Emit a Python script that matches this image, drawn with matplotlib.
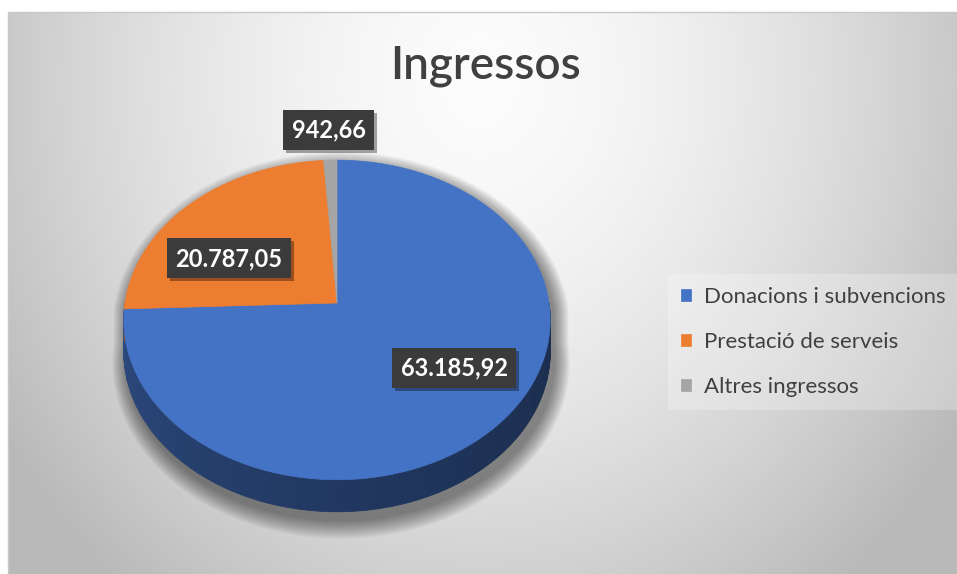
import numpy as np
import matplotlib
matplotlib.use("Agg")
from matplotlib import pyplot as plt
from matplotlib.patches import Polygon
from matplotlib import patheffects as pe

plt.rcParams["font.family"] = ["Lato", "DejaVu Sans"]

# --- data
categories = ["Donacions i subvencions", "Prestació de serveis", "Altres ingressos"]
values = [63185.92, 20787.05, 942.66]
value_labels = ["63.185,92", "20.787,05", "942,66"]
colors = ["#4472C4", "#ED7D31", "#A5A5A5"]
title = "Ingressos"

# --- 3d pie geometry (pixels)
CX, CY = 337, 303
A, B, K = 212, 158, 0.106
DEPTH = 32
# label placement: angle offset from slice middle (deg), radius fraction
label_shift = [-7.4, -13.0, 0.0]
label_r = [0.66, 0.60, 1.24]


def proj(phi, r=1.0, dz=0.0):
    u = r * np.sin(phi)
    v = r * np.cos(phi)
    w = 1 + K * v
    return CX + A * u / w, CY - B * v / w + dz


fig = plt.figure(figsize=(9.57, 5.74), dpi=100)
fig.patch.set_facecolor("white")
ax = fig.add_axes([0, 0, 1, 1])
ax.set_xlim(0, 957)
ax.set_ylim(574, 0)
ax.axis("off")

# --- background: radial grey gradient
xx, yy = np.meshgrid(np.linspace(8, 957, 300), np.linspace(12, 574, 200))
d = np.sqrt(((xx - 480) / 520) ** 2 + ((yy - 80) / 600) ** 2)
g = np.clip(252 - 58 * d ** 1.6, 185, 252) / 255
ax.imshow(np.dstack([g, g, g]), extent=[8, 957, 574, 12], aspect="auto", zorder=0)
ax.plot([8, 8, 957], [574, 12, 12], color="#c8c8c8", lw=1, zorder=1)

# --- soft shadow (outline = back half of top face + front half of bottom face)
back = np.linspace(-np.pi / 2, np.pi / 2, 120)
front = np.linspace(np.pi / 2, 3 * np.pi / 2, 120)
bx, by = proj(back)
fx, fy = proj(front, dz=DEPTH)
ox = np.concatenate([bx, fx])
oy = np.concatenate([by, fy])
ocx, ocy = CX, CY + 20
for s in range(16, 0, -1):
    hx = ocx + (ox - ocx) * (1 + s / 220) + 4
    hy = ocy + (oy - ocy) * (1 + s / 160) + 8
    ax.add_patch(Polygon(np.column_stack([hx, hy]), closed=True, fc="black",
                         ec="none", alpha=0.03, zorder=2))

# --- slice angles (clockwise from 12 o'clock)
frac = np.array(values) / np.sum(values)
edges = np.concatenate([[0], np.cumsum(frac)]) * 2 * np.pi

# --- side walls (front half only)
step = np.radians(1.0)
phi = np.pi / 2
while phi < 3 * np.pi / 2 - 1e-9:
    p2 = min(phi + step, 3 * np.pi / 2)
    mid = (phi + p2) / 2
    i = np.searchsorted(edges, mid) - 1
    base = np.array(matplotlib.colors.to_rgb(colors[i]))
    t = (mid - np.pi / 2) / np.pi
    shade = 0.40 + 0.26 * t ** 1.5
    x1, y1 = proj(phi)
    x2, y2 = proj(p2)
    ax.add_patch(Polygon([(x1, y1), (x2, y2), (x2, y2 + DEPTH), (x1, y1 + DEPTH)],
                         closed=True, fc=base * shade, ec=base * shade, lw=0.6, zorder=3))
    phi = p2

# --- top faces
for i, (lab, col) in enumerate(zip(categories, colors)):
    n = max(int(np.degrees(edges[i + 1] - edges[i])), 2) + 1
    ang = np.linspace(edges[i], edges[i + 1], n)
    tx, ty = proj(ang)
    pts = np.column_stack([np.concatenate([[CX], tx]), np.concatenate([[CY], ty])])
    ax.add_patch(Polygon(pts, closed=True, fc=col, ec=col, lw=0.5, zorder=4, label=lab))

# --- data labels
for i, txt in enumerate(value_labels):
    mid = (edges[i] + edges[i + 1]) / 2 + np.radians(label_shift[i])
    lx, ly = proj(mid, label_r[i])
    t = ax.text(lx, ly, txt, ha="center", va="center", color="white", fontsize=17,
                fontweight="bold", zorder=6,
                bbox=dict(boxstyle="square,pad=0.36", fc="#3b3b3b", ec="none", lw=0))
    t.get_bbox_patch().set_path_effects([
        pe.SimplePatchShadow(offset=(2, -2), shadow_rgbFace="black", alpha=0.35),
        pe.Normal()])

# --- title
ax.text(485, 66, title, ha="center", va="center", fontsize=33, fontweight="semibold",
        color="#404040", zorder=6)

# --- legend
leg = ax.legend(loc="upper left", bbox_to_anchor=(668 / 957, 1 - 274 / 574),
                fontsize=16, frameon=True, fancybox=False, handlelength=0.45,
                handleheight=0.45, handletextpad=0.55, labelspacing=1.12,
                borderpad=0.6, borderaxespad=0)
leg.get_frame().set_facecolor("white")
leg.get_frame().set_alpha(0.25)
leg.get_frame().set_edgecolor("none")
for t in leg.get_texts():
    t.set_color("#404040")
leg.set_zorder(6)

fig.savefig("out.png", dpi=100)
